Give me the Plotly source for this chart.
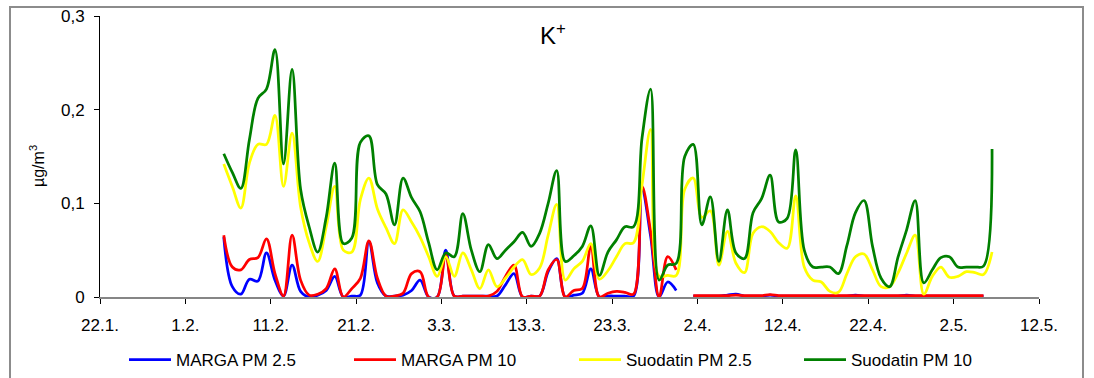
import pandas as pd
import plotly.graph_objects as go

# ---------------- data ----------------
FIRST_DAY = "2011-02-05 12:00"   # first sample (daily samples)
LAST_DAY = "2011-05-06 12:00"    # last sample
AXIS_START = "2011-01-22"
AXIS_END = "2011-05-12"

TICK_DATES = ["2011-01-22", "2011-02-01", "2011-02-11", "2011-02-21", "2011-03-03",
              "2011-03-13", "2011-03-23", "2011-04-02", "2011-04-12", "2011-04-22",
              "2011-05-02", "2011-05-12"]
TICK_LABELS = ["22.1.", "1.2.", "11.2.", "21.2.", "3.3.", "13.3.", "23.3.", "2.4.",
               "12.4.", "22.4.", "2.5.", "12.5."]

Y_TICKS = [0, 0.1, 0.2, 0.3]
Y_TICK_LABELS = ["0", "0,1", "0,2", "0,3"]

SERIES_NAMES = ["MARGA PM 2.5", "MARGA PM 10", "Suodatin PM 2.5", "Suodatin PM 10"]

marga_pm25 = [
    0.064, 0.011, 0.003, 0.019, 0.017, 0.047, 0.018, 0.001, 0.034, 0.006,
    0.000, 0.002, 0.007, 0.022, 0.000, 0.001, 0.002, 0.059, 0.015, 0.001,
    0.001, 0.002, 0.007, 0.018, 0.000, 0.000, 0.050, 0.001, 0.001, 0.001,
    0.001, 0.001, 0.001, 0.013, 0.025, 0.000, 0.001, 0.001, 0.027, 0.041,
    0.000, 0.002, 0.004, 0.030, 0.000, 0.001, 0.001, 0.001, 0.001, 0.114,
    0.065, 0.000, 0.016, 0.007, None, 0.001, 0.001, 0.001, 0.001, 0.002,
    0.003, 0.001, 0.001, 0.001, 0.002, 0.001, 0.001, 0.001, 0.001, 0.001,
    0.001, 0.001, 0.001, 0.001, 0.002, 0.001, 0.001, 0.001, 0.001, 0.001,
    0.002, 0.001, 0.001, 0.001, 0.001, 0.001, 0.001, 0.001, 0.001, 0.001,
    None,
]
marga_pm10 = [
    0.066, 0.032, 0.029, 0.040, 0.042, 0.062, 0.025, 0.001, 0.066, 0.018,
    0.002, 0.003, 0.009, 0.030, 0.000, 0.009, 0.020, 0.060, 0.020, 0.001,
    0.001, 0.004, 0.025, 0.027, 0.000, 0.000, 0.045, 0.001, 0.001, 0.001,
    0.001, 0.001, 0.006, 0.022, 0.034, 0.000, 0.001, 0.001, 0.029, 0.040,
    0.000, 0.007, 0.009, 0.054, 0.000, 0.004, 0.006, 0.005, 0.003, 0.118,
    0.070, 0.000, 0.043, 0.029, None, 0.0015, 0.0015, 0.0015, 0.0015, 0.0015,
    0.002, 0.0015, 0.0015, 0.0015, 0.0025, 0.0015, 0.0015, 0.0015, 0.0015, 0.0015,
    0.0015, 0.0015, 0.0015, 0.0015, 0.0015, 0.0015, 0.0015, 0.0015, 0.0015, 0.0015,
    0.0015, 0.0015, 0.0015, 0.0015, 0.0015, 0.0015, 0.0015, 0.0015, 0.0015, 0.0015,
    None,
]
suodatin_pm25 = [
    0.142, 0.118, 0.095, 0.143, 0.163, 0.163, 0.194, 0.118, 0.175, 0.096,
    0.058, 0.038, 0.075, 0.118, 0.050, 0.048, 0.104, 0.127, 0.094, 0.074,
    0.057, 0.093, 0.080, 0.064, 0.043, 0.022, 0.043, 0.022, 0.047, 0.029,
    0.009, 0.029, 0.011, 0.020, 0.032, 0.040, 0.024, 0.031, 0.066, 0.099,
    0.018, 0.030, 0.038, 0.057, 0.019, 0.028, 0.043, 0.057, 0.058, 0.120,
    0.179, 0.022, 0.023, 0.023, 0.115, 0.127, 0.085, 0.092, 0.034, 0.070,
    0.036, 0.026, 0.068, 0.075, 0.070, 0.058, 0.052, 0.108, 0.032, 0.018,
    0.016, 0.006, 0.005, 0.025, 0.043, 0.046, 0.029, 0.011, 0.011, 0.026,
    0.047, 0.066, 0.003, 0.022, 0.032, 0.021, 0.022, 0.027, 0.026, 0.024,
    0.048,
]
suodatin_pm10 = [
    0.153, 0.133, 0.116, 0.168, 0.212, 0.222, 0.264, 0.142, 0.243, 0.115,
    0.075, 0.048, 0.085, 0.143, 0.057, 0.063, 0.165, 0.172, 0.120, 0.110,
    0.077, 0.127, 0.106, 0.091, 0.058, 0.029, 0.047, 0.043, 0.089, 0.050,
    0.027, 0.056, 0.041, 0.050, 0.059, 0.069, 0.054, 0.068, 0.100, 0.135,
    0.038, 0.044, 0.054, 0.076, 0.023, 0.048, 0.061, 0.075, 0.075, 0.170,
    0.222, 0.018, 0.034, 0.036, 0.150, 0.163, 0.077, 0.107, 0.038, 0.093,
    0.047, 0.041, 0.090, 0.105, 0.130, 0.080, 0.084, 0.157, 0.050, 0.032,
    0.032, 0.032, 0.025, 0.055, 0.090, 0.103, 0.054, 0.020, 0.011, 0.043,
    0.072, 0.103, 0.015, 0.029, 0.042, 0.043, 0.032, 0.032, 0.032, 0.033,
    0.158,
]

dates = pd.date_range(FIRST_DAY, LAST_DAY, freq="D")

# ---------------- figure ----------------
FONT = "Liberation Sans, Arial, sans-serif"
colors = ["#0000FF", "#FF0000", "#FFFF00", "#008000"]
series = [marga_pm25, marga_pm10, suodatin_pm25, suodatin_pm10]

fig = go.Figure()
for name, vals, col in zip(SERIES_NAMES, series, colors):
    fig.add_trace(go.Scatter(
        x=dates, y=vals, name=name, mode="lines", connectgaps=False,
        line=dict(color=col, width=2.75, shape="spline", smoothing=1),
    ))

L, R, T, B = 100, 55, 16, 81
W, H = 1094, 378
pw, ph = W - L - R, H - T - B

def px_x(p):
    return (p - L) / pw

def px_y(p):
    return 1 - (p - T) / ph

fig.update_layout(
    width=W, height=H,
    margin=dict(l=L, r=R, t=T, b=B, pad=0, autoexpand=False),
    paper_bgcolor="white", plot_bgcolor="white",
    font=dict(family=FONT, size=17, color="#000"),
    showlegend=True,
    legend=dict(
        orientation="h", x=px_x(124), y=px_y(342), xanchor="left", yanchor="top",
        font=dict(family=FONT, size=17, color="#000"),
        entrywidth=168, entrywidthmode="pixels", itemwidth=42,
        bgcolor="rgba(0,0,0,0)", borderwidth=0,
    ),
    xaxis=dict(
        type="date", range=[AXIS_START, AXIS_END],
        tickmode="array", tickvals=TICK_DATES, ticktext=TICK_LABELS,
        ticks="outside", ticklen=5, tickcolor="#000", tickwidth=1,
        showline=True, linecolor="#868686", linewidth=2,
        showgrid=False, zeroline=False, ticklabelstandoff=7,
        tickfont=dict(family=FONT, size=17, color="#000"),
    ),
    yaxis=dict(
        range=[0, 0.3], tickmode="array", tickvals=Y_TICKS, ticktext=Y_TICK_LABELS,
        ticks="outside", ticklen=5, tickcolor="#000", tickwidth=1,
        showline=True, linecolor="#000", linewidth=1,
        showgrid=False, zeroline=False, ticklabelstandoff=6,
        tickfont=dict(family=FONT, size=17, color="#000"),
    ),
    shapes=[dict(
        type="rect", xref="paper", yref="paper",
        x0=px_x(10), x1=px_x(1083), y0=px_y(392), y1=px_y(7),
        line=dict(color="#8c8c8c", width=2), fillcolor="rgba(0,0,0,0)", layer="below",
    )],
    annotations=[
        dict(text="K<sup>+</sup>", xref="paper", yref="paper", x=px_x(553), y=px_y(34),
             xanchor="center", yanchor="middle", showarrow=False,
             font=dict(family=FONT, size=24, color="#000")),
        dict(text="µg/m<sup>3</sup>", xref="paper", yref="paper", x=px_x(37), y=px_y(166),
             xanchor="center", yanchor="middle", showarrow=False, textangle=-90,
             font=dict(family=FONT, size=16, color="#000")),
    ],
)

fig.write_html("out.html")
